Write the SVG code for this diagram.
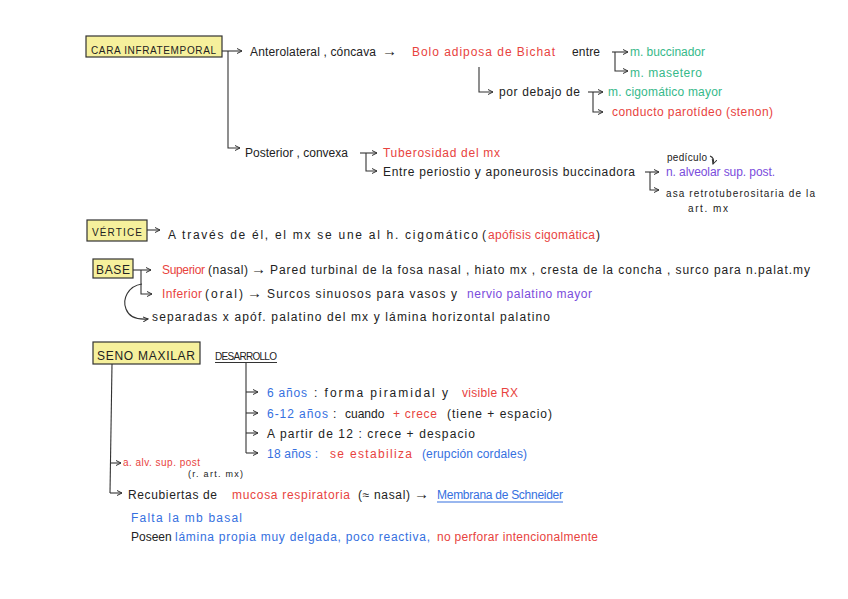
<svg xmlns="http://www.w3.org/2000/svg" width="848" height="599" viewBox="0 0 848 599">
<defs>
<style>
text{font-family:"Liberation Sans",Arial,sans-serif;font-size:12px;fill:#222}
.r{fill:#e8433e}.g{fill:#36b98a}.b{fill:#3570e0}.p{fill:#7a4cdc}
.s10{font-size:10px}.s9{font-size:9px}.a{font-size:15px}
.box{fill:#f6f09c;stroke:#333;stroke-width:1.2}
.c{fill:none;stroke:#333;stroke-width:1.1;marker-end:url(#ah)}
.l{fill:none;stroke:#333;stroke-width:1.1}
</style>
<marker id="ah" viewBox="0 0 6 6" refX="5" refY="3" markerWidth="6" markerHeight="6" markerUnits="userSpaceOnUse" orient="auto"><path d="M0,0.5 L5,3 L0,5.5" fill="none" stroke="#333" stroke-width="1"/></marker>
</defs>
<rect width="848" height="599" fill="#fff"/>

<g id="connectors">
<path class="c" d="M222,51 H242"/>
<path class="c" d="M228,51 V148 H240"/>
<path class="c" d="M612,52 H628"/>
<path class="c" d="M615,52 V71 H628"/>
<path class="c" d="M479,67 V92 H493"/>
<path class="c" d="M588,92 H603"/>
<path class="c" d="M593,92 V112 H603"/>
<path class="c" d="M360,153 H377"/>
<path class="c" d="M366,153 V171 H377"/>
<path class="c" d="M645,172 H659"/>
<path class="c" d="M650,172 V190 H659"/>
<path class="c" d="M710,156 Q715,158 713,164"/>
<path class="c" d="M147,230 H160"/>
<path class="c" d="M133,270 H151"/>
<path class="c" d="M141,270 V294 H152"/>
<path class="c" d="M142,284 C128,286 122,299 126,309 C129,317 136,320 148,319"/>
<path class="l" d="M112,364 L110,493"/>
<path class="c" d="M110,493 H122"/>
<path class="c" d="M110,463 H121"/>
<path class="l" d="M246,362 V453"/>
<path class="c" d="M246,392 H258"/>
<path class="c" d="M246,413 H258"/>
<path class="c" d="M246,433 H258"/>
<path class="c" d="M246,453 H258"/>
<path class="l" d="M215,362.5 H277"/>
<path class="l" d="M437,502 H563" style="stroke:#3570e0"/>
</g>

<g id="cara">
<rect class="box" x="86" y="36" width="136" height="21"/>
<text class="s10" x="91" y="54" textLength="125">CARA INFRATEMPORAL</text>
</g>

<g id="anterolateral">
<text x="250" y="56" textLength="126">Anterolateral , cóncava</text>
<text class="a" x="382" y="56">→</text>
<text class="r" x="412" y="56" textLength="143">Bolo adiposa de Bichat</text>
<text x="572" y="56" textLength="28">entre</text>
<text class="g" x="630" y="56" textLength="75">m. buccinador</text>
<text class="g" x="630" y="77" textLength="72">m. masetero</text>
<text x="499" y="96" textLength="81">por debajo de</text>
<text class="g" x="608" y="96" textLength="114">m. cigomático mayor</text>
<text class="r" x="612" y="116" textLength="161">conducto parotídeo (stenon)</text>
</g>

<g id="posterior">
<text x="245" y="157" textLength="103">Posterior , convexa</text>
<text class="r" x="383" y="157" textLength="117">Tuberosidad del mx</text>
<text x="383" y="176" textLength="252">Entre periostio  y aponeurosis buccinadora</text>
<text class="s10" x="667" y="161" textLength="40">pedículo</text>
<text class="p" x="666" y="176" textLength="109">n. alveolar sup. post.</text>
<text class="s10" x="666" y="197" textLength="149">asa retrotuberositaria de la</text>
<text class="s10" x="688" y="212" textLength="40">art. mx</text>
</g>

<g id="vertice">
<rect class="box" x="87" y="220" width="60" height="21"/>
<text class="s10" x="92" y="236" textLength="50">VÉRTICE</text>
<text x="168" y="239" textLength="310">A través de él, el mx se une al h. cigomático</text>
<text x="482" y="239">(</text>
<text class="r" x="488" y="239" textLength="107">apófisis cigomática</text>
<text x="596" y="239">)</text>
</g>

<g id="base">
<rect class="box" x="93" y="259" width="40" height="19"/>
<text x="96" y="274" textLength="34">BASE</text>
<text class="r" x="162" y="274" textLength="43">Superior</text>
<text x="208" y="274" textLength="40">(nasal)</text>
<text class="a" x="251" y="274">→</text>
<text x="270" y="274" textLength="540">Pared turbinal de la fosa nasal , hiato mx , cresta de  la concha , surco para n.palat.my</text>
<text class="r" x="162" y="298" textLength="40">Inferior</text>
<text x="205" y="298" textLength="38">(oral)</text>
<text class="a" x="247" y="298">→</text>
<text x="267" y="298" textLength="190">Surcos sinuosos para  vasos  y</text>
<text class="p" x="467" y="298" textLength="125">nervio palatino mayor</text>
<text x="152" y="321" textLength="398">separadas x apóf. palatino del mx  y  lámina horizontal palatino</text>
</g>

<g id="seno">
<rect class="box" x="93" y="342" width="107" height="22"/>
<text x="97" y="360" textLength="98">SENO MAXILAR</text>
<text class="s10" x="215" y="360" textLength="62">DESARROLLO</text>
</g>

<g id="desarrollo">
<text class="b" x="267" y="397" textLength="40">6 años</text>
<text x="314" y="397" textLength="134">: forma piramidal  y</text>
<text class="r" x="462" y="397" textLength="56">visible RX</text>
<text class="b" x="267" y="418" textLength="61">6-12 años</text>
<text x="333" y="418">:</text>
<text x="345" y="418">cuando</text>
<text class="r" x="393" y="418" textLength="44">+ crece</text>
<text x="447" y="418" textLength="105">(tiene + espacio)</text>
<text x="267" y="438" textLength="208">A partir de 12 : crece + despacio</text>
<text class="b" x="267" y="458" textLength="51">18 años :</text>
<text class="r" x="330" y="458" textLength="82">se estabiliza</text>
<text class="b" x="422" y="458" textLength="105">(erupción cordales)</text>
</g>

<g id="arteria">
<text class="r s10" x="123" y="466" textLength="77">a. alv. sup. post</text>
<text class="s9" x="188" y="477" textLength="55">(r. art. mx)</text>
</g>

<g id="recubiertas">
<text x="128" y="499" textLength="89">Recubiertas de</text>
<text class="r" x="232" y="499" textLength="118">mucosa respiratoria</text>
<text x="358" y="499" textLength="52">(≈ nasal)</text>
<text class="a" x="414" y="499">→</text>
<text class="b" x="437" y="499" textLength="126">Membrana de Schneider</text>
<text class="b" x="131" y="522" textLength="111">Falta la mb basal</text>
<text x="131" y="541" font-size="11">Poseen</text>
<text class="b" x="175" y="541" textLength="255">lámina propia muy delgada, poco reactiva,</text>
<text class="r" x="437" y="541" textLength="161">no perforar intencionalmente</text>
</g>
</svg>
